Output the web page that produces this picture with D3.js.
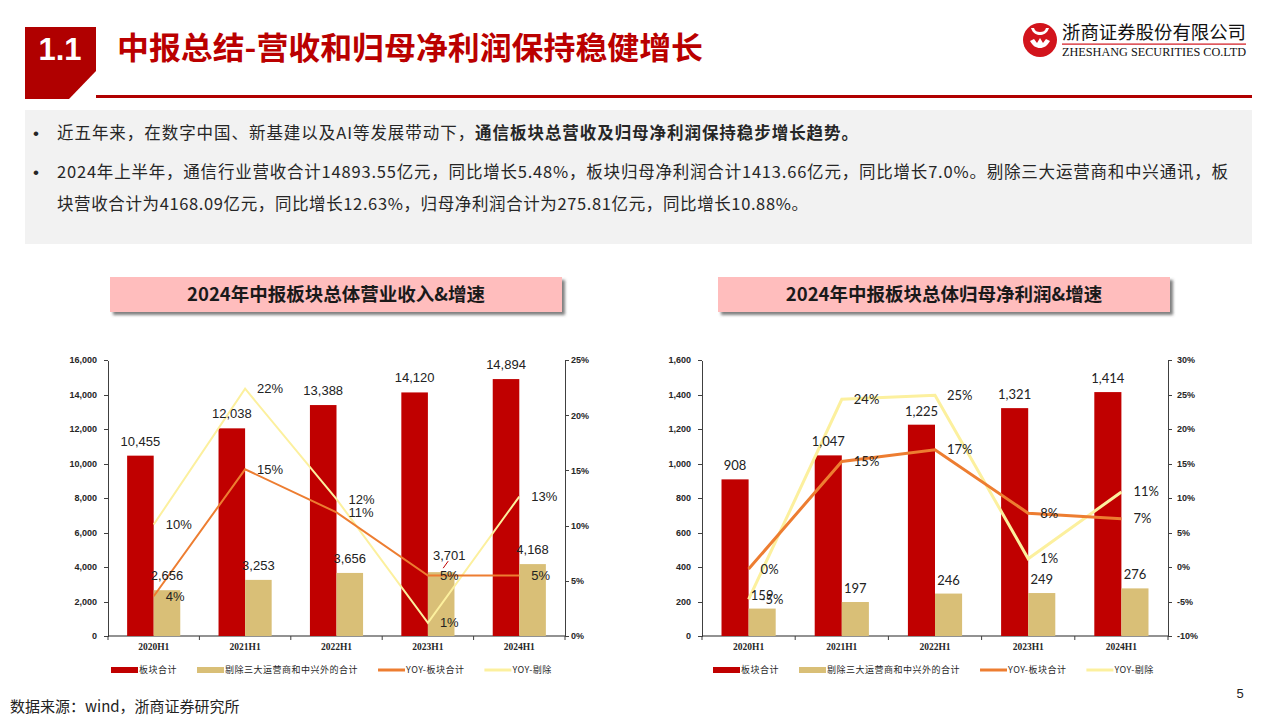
<!DOCTYPE html>
<html lang="zh">
<head>
	<meta charset="UTF-8">
	<title>中报总结-营收和归母净利润保持稳健增长</title>
	<script src="https://cdn.jsdelivr.net/npm/d3@7/dist/d3.min.js"></script>
	<style>
		html, body { margin: 0; padding: 0; background: #fff; }
		body { width: 1280px; height: 720px; overflow: hidden; font-family: 'Noto Sans CJK SC', 'Noto Sans', sans-serif; }
		.axis text { fill: #262626; }
		.axis path, .axis line { stroke: #404040; shape-rendering: crispEdges; }
		.para { font-family: 'Liberation Sans Narrow', 'Noto Sans CJK SC', sans-serif; font-size: 16.5px; fill: #262626; }
		.bullet { font-family: 'Liberation Sans', sans-serif; font-size: 17px; fill: #262626; }
		.legend text { font-family: 'Noto Sans CJK SC', sans-serif; font-size: 9px; letter-spacing: 0.5px; fill: #262626; }
	</style>
</head>
<body>
<div id="page"></div>
<script>

// ---------- data ----------
var categories = ['2020H1', '2021H1', '2022H1', '2023H1', '2024H1'];

// 营业收入 (亿元) and YoY (%)
var revTotal    = [10455, 12038, 13388, 14120, 14894];
var revExcl     = [2656, 3253, 3656, 3701, 4168];
var revYoyTotal = [3.6, 15.1, 11.2, 5.47, 5.48];
var revYoyExcl  = [10.1, 22.4, 12.4, 1.2, 12.63];
var revTicks    = [0, 2000, 4000, 6000, 8000, 10000, 12000, 14000, 16000];
var revPctTicks = [0, 5, 10, 15, 20, 25];

// 归母净利润 (亿元) and YoY (%)
var profitTotal    = [908, 1047, 1225, 1321, 1414];
var profitExcl     = [159, 197, 246, 249, 276];
var profitYoyTotal = [-0.3, 15.3, 17.0, 7.8, 7.0];
var profitYoyExcl  = [-4.7, 24.3, 24.9, 1.2, 10.88];
var profitTicks    = [0, 200, 400, 600, 800, 1000, 1200, 1400, 1600];
var profitPctTicks = [-10, -5, 0, 5, 10, 15, 20, 25, 30];

var legendNames  = ['板块合计', '剔除三大运营商和中兴外的合计', 'YOY-板块合计', 'YOY-剔除'];
var seriesColors = ['#C00000', '#D9BF77', '#ED7D31', '#FCF09E'];

var bulletLines = [
	[{t: '近五年来，在数字中国、新基建以及AI等发展带动下，', b: false}, {t: '通信板块总营收及归母净利润保持稳步增长趋势。', b: true}],
	[{t: '2024年上半年，通信行业营收合计14893.55亿元，同比增长5.48%，板块归母净利润合计1413.66亿元，同比增长7.0%。剔除三大运营商和中兴通讯，板', b: false}],
	[{t: '块营收合计为4168.09亿元，同比增长12.63%，归母净利润合计为275.81亿元，同比增长10.88%。', b: false}]
];

// ---------- page ----------
var svg = d3.select('#page').append('svg')
	.attr('width', 1280)
	.attr('height', 720);

var defs = svg.append('defs');
var shadow = defs.append('filter').attr('id', 'shadow')
	.attr('x', '-5%').attr('y', '-30%').attr('width', '115%').attr('height', '170%');
shadow.append('feDropShadow')
	.attr('dx', 3).attr('dy', 3).attr('stdDeviation', 1.6)
	.attr('flood-color', '#555').attr('flood-opacity', 0.75);

// header
svg.append('path')
	.attr('d', 'M25,27 H96 V71 L69,99 H25 Z')
	.attr('fill', '#B00000');

svg.append('text')
	.attr('x', 60).attr('y', 60)
	.attr('text-anchor', 'middle')
	.style('font-family', 'Liberation Sans, Arial, sans-serif')
	.style('font-weight', 'bold')
	.style('font-size', '31px')
	.attr('fill', '#fff')
	.text('1.1');

svg.append('text')
	.attr('x', 117).attr('y', 59)
	.attr('textLength', 586)
	.attr('lengthAdjust', 'spacingAndGlyphs')
	.style('font-family', 'Noto Sans CJK SC, sans-serif')
	.style('font-weight', 'bold')
	.style('font-size', '31px')
	.attr('fill', '#BA0000')
	.text('中报总结-营收和归母净利润保持稳健增长');

svg.append('rect')
	.attr('x', 96).attr('y', 95)
	.attr('width', 1156).attr('height', 3)
	.attr('fill', '#B00000');

// logo
var logo = svg.append('g');
logo.append('circle').attr('cx', 1040).attr('cy', 40).attr('r', 17).attr('fill', '#D2141C');
logo.append('path')
	.attr('d', 'M1031,28 C1033,34 1037,35 1040,35 C1043,35 1047,34 1049,28 L1046,28 C1045,31 1043,32 1040,32 C1037,32 1035,31 1034,28 Z' +
		' M1030,41 C1033,46 1036,48 1040,48 C1044,48 1047,46 1050,41 L1046,39 L1043,43 L1040,38 L1037,43 L1034,39 Z')
	.attr('fill', '#fff');
logo.append('text')
	.attr('x', 1062).attr('y', 39)
	.attr('textLength', 184)
	.attr('lengthAdjust', 'spacingAndGlyphs')
	.style('font-family', 'Noto Sans CJK SC, sans-serif')
	.style('font-size', '18px')
	.attr('fill', '#111')
	.text('浙商证券股份有限公司');
logo.append('rect')
	.attr('x', 1062).attr('y', 43.5)
	.attr('width', 184).attr('height', 1.2)
	.attr('fill', '#D2141C');
logo.append('text')
	.attr('x', 1062).attr('y', 56)
	.attr('textLength', 184)
	.attr('lengthAdjust', 'spacingAndGlyphs')
	.style('font-family', 'Liberation Serif, serif')
	.style('font-size', '11.5px')
	.attr('fill', '#111')
	.text('ZHESHANG SECURITIES CO.LTD');

// summary box
svg.append('rect')
	.attr('x', 25).attr('y', 110)
	.attr('width', 1227).attr('height', 134)
	.attr('fill', '#F2F2F2');

var lineYs = [139, 178, 210];
var lineLens = [801, 1171, 751];
bulletLines.forEach(function(parts, i) {
	if (i < 2) {
		svg.append('text')
			.attr('x', 33).attr('y', lineYs[i])
			.attr('class', 'bullet')
			.text('•');
	}
	var t = svg.append('text')
		.attr('class', 'para')
		.attr('x', 57).attr('y', lineYs[i])
		.attr('textLength', lineLens[i])
		.attr('lengthAdjust', 'spacing');
	parts.forEach(function(p) {
		t.append('tspan')
			.style('font-weight', p.b ? 'bold' : 'normal')
			.text(p.t);
	});
});

// footer
svg.append('text')
	.attr('x', 10).attr('y', 712)
	.style('font-family', 'Noto Sans CJK SC, sans-serif')
	.style('font-size', '15px')
	.attr('fill', '#222')
	.text('数据来源：wind，浙商证券研究所');

svg.append('text')
	.attr('x', 1240).attr('y', 698)
	.attr('text-anchor', 'middle')
	.style('font-family', 'Liberation Sans, sans-serif')
	.style('font-size', '13px')
	.attr('fill', '#222')
	.text('5');

// ---------- charts ----------
function pctLabel(v) { return Math.round(v) + '%'; }

function drawChart(opt) {
	var g = svg.append('g');

	// title box
	g.append('rect')
		.attr('x', opt.titleX).attr('y', 277)
		.attr('width', 452).attr('height', 35)
		.attr('fill', '#FFBDBD')
		.attr('filter', 'url(#shadow)');
	g.append('text')
		.attr('x', opt.titleX + 226).attr('y', 301)
		.attr('text-anchor', 'middle')
		.style('font-family', 'Noto Sans CJK SC, sans-serif')
		.style('font-weight', 'bold')
		.style('font-size', '18.5px')
		.attr('fill', '#1a1a1a')
		.text(opt.title);

	var x = d3.scaleBand().domain(categories).range([opt.x0, opt.x1]);
	var xs = d3.scaleBand().domain([0, 1]).range([0, x.bandwidth()]).paddingOuter(0.72);
	var y = d3.scaleLinear().domain([0, d3.max(opt.ticks)]).range([636, 360]);
	var y2 = d3.scaleLinear().domain(d3.extent(opt.pctTicks)).range([636, 360]);

	// axes
	g.append('g')
		.attr('class', 'axis')
		.attr('transform', 'translate(' + opt.x0 + ',0)')
		.call(d3.axisLeft(y).tickValues(opt.ticks).tickSize(4).tickSizeOuter(0).tickPadding(7).tickFormat(d3.format(',')))
		.call(function(a) {
			a.selectAll('text').style('font-family', 'Liberation Sans, Arial, sans-serif').style('font-size', '9px').style('font-weight', 'bold');
		});

	g.append('g')
		.attr('class', 'axis')
		.attr('transform', 'translate(' + opt.x1 + ',0)')
		.call(d3.axisRight(y2).tickValues(opt.pctTicks).tickSize(4).tickSizeOuter(0).tickPadding(opt.rightPad).tickFormat(function(d) { return d + '%'; }))
		.call(function(a) {
			a.selectAll('text').style('font-family', 'Liberation Sans, Arial, sans-serif').style('font-size', '9px').style('font-weight', 'bold');
		});

	// category axis: ticks at band edges, labels at centres
	var edges = categories.map(function(c) { return x(c); }).concat([opt.x1]);
	g.append('line')
		.attr('x1', opt.x0).attr('x2', opt.x1)
		.attr('y1', 636).attr('y2', 636)
		.attr('stroke', '#262626').attr('stroke-width', 1.2);
	g.selectAll('.xtick').data(edges).enter().append('line')
		.attr('x1', function(d) { return d; }).attr('x2', function(d) { return d; })
		.attr('y1', 636).attr('y2', 640)
		.attr('stroke', '#404040');
	g.selectAll('.xlab').data(categories).enter().append('text')
		.attr('x', function(d) { return x(d) + x.bandwidth() / 2; })
		.attr('y', 650)
		.attr('text-anchor', 'middle')
		.style('font-family', 'Liberation Serif, serif')
		.style('font-size', '9.5px')
		.style('font-weight', 'bold')
		.attr('fill', '#262626')
		.text(function(d) { return d; });

	// bars
	[opt.total, opt.excl].forEach(function(vals, k) {
		g.selectAll('.bar' + k).data(vals).enter().append('rect')
			.attr('x', function(d, i) { return x(categories[i]) + xs(k); })
			.attr('y', function(d) { return y(d); })
			.attr('width', xs.bandwidth())
			.attr('height', function(d) { return 636 - y(d); })
			.attr('fill', seriesColors[k]);
	});

	// lines
	var cx = function(i) { return x(categories[i]) + x.bandwidth() / 2; };
	var line = d3.line()
		.x(function(d, i) { return cx(i); })
		.y(function(d) { return y2(d); });
	[opt.yoyExcl, opt.yoyTotal].forEach(function(vals, k) {
		g.append('path')
			.attr('d', line(vals))
			.attr('fill', 'none')
			.attr('stroke', seriesColors[3 - k])
			.attr('stroke-width', opt.lineWidth)
			.attr('stroke-linejoin', 'miter');
	});

	// value labels
	[opt.total, opt.excl].forEach(function(vals, k) {
		vals.forEach(function(d, i) {
			var nudge = (k === 1 && opt.nudge && opt.nudge[i]) || [0, 0];
			var lx = x(categories[i]) + xs(k) + xs.bandwidth() / 2 + nudge[0];
			var ly = y(d) - opt.labelGap + nudge[1];
			if (nudge[0] !== 0) {
				g.append('line')
					.attr('x1', lx - 6).attr('y1', ly + 8)
					.attr('x2', lx - 1).attr('y2', ly + 1)
					.attr('stroke', '#C00000').attr('stroke-width', 1);
			}
			g.append('text')
				.attr('x', lx).attr('y', ly)
				.attr('text-anchor', 'middle')
				.style('font-family', opt.labelFont)
				.style('font-size', '13px')
				.attr('fill', '#222')
				.text(d3.format(',')(d));
		});
	});

	// yoy labels
	[opt.yoyExcl, opt.yoyTotal].forEach(function(vals) {
		vals.forEach(function(d, i) {
			g.append('text')
				.attr('x', cx(i) + 12).attr('y', y2(d))
				.attr('dy', '0.35em')
				.style('font-family', opt.labelFont)
				.style('font-size', '13px')
				.attr('fill', '#222')
				.text(pctLabel(d));
		});
	});

	// legend
	var lg = g.append('g').attr('class', 'legend');
	var lx = opt.legendX;
	legendNames.forEach(function(name, i) {
		if (i < 2) {
			lg.append('rect')
				.attr('x', lx).attr('y', 667)
				.attr('width', 27).attr('height', 6)
				.attr('fill', seriesColors[i]);
		} else {
			lg.append('line')
				.attr('x1', lx).attr('x2', lx + 27)
				.attr('y1', 670).attr('y2', 670)
				.attr('stroke', seriesColors[i])
				.attr('stroke-width', 3);
		}
		var t = lg.append('text')
			.attr('x', lx + 28).attr('y', 670)
			.attr('dy', '0.35em')
			.text(name);
		lx = lx + 28 + t.node().getComputedTextLength() + 20;
	});
}

drawChart({
	title: '2024年中报板块总体营业收入&增速',
	titleX: 110,
	x0: 108, x1: 565,
	ticks: revTicks, pctTicks: revPctTicks,
	total: revTotal, excl: revExcl,
	yoyTotal: revYoyTotal, yoyExcl: revYoyExcl,
	lineWidth: 2,
	labelFont: 'Liberation Sans, Arial, sans-serif',
	labelGap: 10,
	rightPad: 2,
	nudge: {3: [8, -2]},
	legendX: 111
});

drawChart({
	title: '2024年中报板块总体归母净利润&增速',
	titleX: 718,
	x0: 702, x1: 1168,
	ticks: profitTicks, pctTicks: profitPctTicks,
	total: profitTotal, excl: profitExcl,
	yoyTotal: profitYoyTotal, yoyExcl: profitYoyExcl,
	lineWidth: 3,
	labelFont: 'Lato, Carlito, sans-serif',
	labelGap: 9,
	rightPad: 5,
	legendX: 713
});

</script>
</body>
</html>
